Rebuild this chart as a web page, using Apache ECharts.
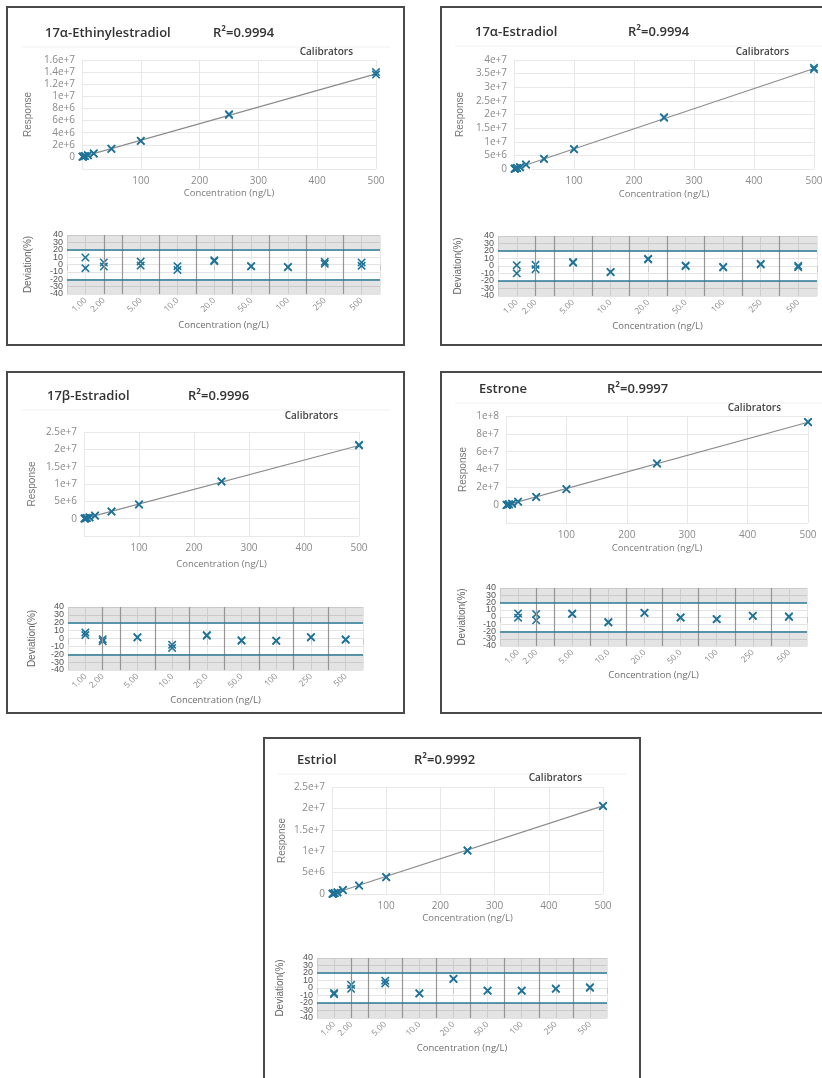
<!DOCTYPE html>
<html>
<head>
<meta charset="utf-8">
<title>Calibration curves</title>
<script src="https://cdn.jsdelivr.net/npm/echarts@6/dist/echarts.min.js"></script>
<style>
  html, body { margin: 0; padding: 0; background: #fff; }
  #chart { width: 822px; height: 1078px; }
</style>
</head>
<body>
<div id="chart"></div>
<script>
// calibration levels (ng/L) and where each sits on the deviation plot
var concLevels = [1, 2, 5, 10, 20, 50, 100, 250, 500];
var levelLabels = ['1.00', '2.00', '5.00', '10.0', '20.0', '50.0', '100', '250', '500'];
var levelSlots = [0.5, 1, 2, 3, 4, 5, 6, 7, 8];
var slotDividers = [1, 1.5, 2.5, 3.5, 4.5, 5.5, 6.5, 7.5];

var compoundNames = ['17α-Ethinylestradiol', '17α-Estradiol', '17β-Estradiol', 'Estrone', 'Estriol'];
var r2Labels = ['R²=0.9994', 'R²=0.9994', 'R²=0.9996', 'R²=0.9997', 'R²=0.9992'];

// responses, two replicates per level
var respEE2 = [2.99e4, 2.60e4, 5.63e4, 5.33e4, 1.43e5, 1.35e5, 2.68e5, 2.54e5, 5.80e5, 5.73e5,
               1.34e6, 1.33e6, 2.64e6, 2.65e6, 7.05e6, 6.93e6, 1.40e7, 1.36e7];
var respE2a = [7.5e4, 6.7e4, 1.50e5, 1.42e5, 3.89e5, 3.86e5, 6.80e5, 6.78e5, 1.62e6, 1.61e6,
               3.69e6, 3.72e6, 7.23e6, 7.30e6, 1.88e7, 1.90e7, 3.66e7, 3.72e7];
var respE2b = [4.55e4, 4.40e4, 8.36e4, 8.15e4, 2.15e5, 2.14e5, 3.88e5, 3.71e5, 8.80e5, 8.73e5,
               2.07e6, 2.05e6, 4.10e6, 4.11e6, 1.075e7, 1.073e7, 2.13e7, 2.11e7];
var respE1 = [1.94e5, 1.83e5, 3.85e5, 3.53e5, 9.70e5, 9.65e5, 1.71e6, 1.70e6, 3.92e6, 3.91e6,
              9.20e6, 9.18e6, 1.79e7, 1.80e7, 4.68e7, 4.67e7, 9.33e7, 9.30e7];
var respE3 = [3.81e4, 3.75e4, 8.50e4, 8.10e4, 2.24e5, 2.17e5, 3.78e5, 3.80e5, 9.20e5, 9.18e5,
              1.97e6, 1.98e6, 3.94e6, 3.95e6, 1.01e7, 1.02e7, 2.05e7, 2.06e7];

// deviation (%), two replicates per level
var devEE2 = [9.5, -5, 2.7, -2.7, 4, -1.4, -2.3, -7.3, 5.9, 4.5, -2.3, -2.5, -3.6, -3.4, 3.6, 0.9, 2.7, -1.8];
var devE2a = [1.1, -9.7, 1.6, -4.3, 5.2, 4.3, -7.9, -8.3, 9.7, 8.8, -0.2, 0.7, -2, -1.1, 2, 2.9, -1.6, 0.2];
var devE2b = [7.7, 4.3, -0.9, -3.4, 1.7, 1.3, -8, -12, 4.3, 3.4, -2.1, -3, -3, -2.8, 1.7, 1.5, -1, -1.7];
var devE1 = [5, -0.9, 4.1, -4.5, 5, 4.1, -6.8, -7.7, 5.9, 5.5, -0.5, -0.9, -3.2, -2.7, 1.8, 1.4, 0.9, 0];
var devE3 = [-6.5, -8.3, 4.3, -1.1, 9.7, 6.1, -7.4, -7, 12.4, 11.9, -3.8, -3.4, -3.8, -3.4, -1.1, -0.7, 0.2, 1.1];

// fitted line: response at 0 and at 500 ng/L
var fitEE2 = [0, 1.37e7];
var fitE2a = [0, 3.69e7];
var fitE2b = [0, 2.11e7];
var fitE1 = [0, 9.30e7];
var fitE3 = [0, 2.06e7];

// response axis ticks
var respMax = [1.6e7, 4e7, 2.5e7, 1e8, 2.5e7];
var respStep = [2e6, 5e6, 5e6, 2e7, 5e6];
var respMin = [-2e6, 0, -5e6, -2e7, 0];

var allResp = [respEE2, respE2a, respE2b, respE1, respE3];
var allDev = [devEE2, devE2a, devE2b, devE1, devE3];
var allFit = [fitEE2, fitE2a, fitE2b, fitE1, fitE3];

// layout of the five boxes (pixels)
var panels = [
  { box: [7, 7, 397, 338], title: [45, 33], r2x: 213, calib: [353, 52],
    cal: [82, 60, 294, 109], dev: [67, 235, 313, 59], gaps: [49, 19, 34, 26] },
  { box: [441, 7, 400, 338], title: [475, 32], r2x: 628, calib: [789, 52],
    cal: [514, 60, 300, 109], dev: [498, 236, 319, 60], gaps: [49, 20, 35, 25] },
  { box: [7, 372, 397, 341], title: [47, 396], r2x: 188, calib: [338, 416],
    cal: [84, 432, 275, 104], dev: [68, 607, 295, 63], gaps: [47, 23, 31, 25] },
  { box: [441, 372, 400, 341], title: [479, 389], r2x: 607, calib: [781, 408],
    cal: [506, 416, 302, 107], dev: [500, 588, 307, 58], gaps: [38, 20, 33, 24] },
  { box: [264, 738, 376, 360], title: [297, 760], r2x: 414, calib: [582, 778],
    cal: [332, 787, 271, 107], dev: [317, 958, 290, 60], gaps: [45, 19, 32, 25] }
];

var markerColor = '#1f7398';
var limitColor = '#2b7a99';
var crossPath = 'path://M0,1.3L1.3,0L5,3.7L8.7,0L10,1.3L6.3,5L10,8.7L8.7,10L5,6.3L1.3,10L0,8.7L3.7,5Z';
var tickFont = 'Open Sans, Liberation Sans, sans-serif';
var narrowFont = 'Liberation Sans Narrow, Liberation Sans, sans-serif';

function expLabel(v) {
  if (v < 0) return '';
  if (v === 0) return '0';
  return v.toExponential();
}

function slotLabel(v) {
  for (var k = 0; k < levelSlots.length; k++) {
    if (Math.abs(levelSlots[k] - v) < 1e-6) return levelLabels[k];
  }
  return '';
}

var grids = [], xAxes = [], yAxes = [], series = [], graphics = [];

var devLabelStyle = { color: '#555', fontSize: 9, fontFamily: narrowFont, margin: 4 };

panels.forEach(function (p, i) {
  // calibration curve
  var gi = grids.length;
  var cx = xAxes.length, cy = yAxes.length;
  grids.push({ left: p.cal[0], top: p.cal[1], width: p.cal[2], height: p.cal[3], outerBoundsMode: 'none' });
  xAxes.push({
    type: 'value', gridIndex: gi, min: 0, max: 500, interval: 100,
    axisLine: { show: false }, axisTick: { show: false },
    splitLine: { lineStyle: { color: '#e8e8e8', width: 1 } },
    axisLabel: { color: '#8a8a8a', fontSize: 10, fontFamily: tickFont, margin: 7,
      formatter: function (v) { return v === 0 ? '' : String(v); } },
    name: 'Concentration (ng/L)', nameLocation: 'middle', nameGap: p.gaps[1], nameMoveOverlap: false,
    nameTextStyle: { color: '#7a7a7a', fontSize: 9.5, fontFamily: tickFont }
  });
  yAxes.push({
    type: 'value', gridIndex: gi, position: 'left', min: respMin[i], max: respMax[i], interval: respStep[i],
    axisLine: { show: false }, axisTick: { show: false },
    splitLine: { lineStyle: { color: '#e8e8e8', width: 1 } },
    axisLabel: { color: '#8a8a8a', fontSize: 10, fontFamily: tickFont, margin: 7, formatter: expLabel,
      hideOverlap: false, showMinLabel: true, showMaxLabel: true },
    name: 'Response', nameLocation: 'middle', nameGap: p.gaps[0], nameMoveOverlap: false,
    nameTextStyle: { color: '#777', fontSize: 10, fontFamily: narrowFont }
  });

  var calPts = [];
  allResp[i].forEach(function (r, k) { calPts.push([concLevels[Math.floor(k / 2)], r]); });
  var fit = allFit[i];
  series.push({
    type: 'line', xAxisIndex: cx, yAxisIndex: cy, silent: true, showSymbol: false,
    data: [[0, fit[0]], [concLevels[concLevels.length - 1], fit[1]]],
    lineStyle: { color: '#8c8c8c', width: 1.2 }, z: 2
  });
  series.push({
    type: 'scatter', xAxisIndex: cx, yAxisIndex: cy, silent: true,
    symbol: crossPath, symbolSize: 8.5, data: calPts,
    itemStyle: { color: markerColor, opacity: 1 }, z: 3
  });

  // deviation plot
  var di = grids.length;
  var dx = xAxes.length, dy = yAxes.length;
  grids.push({ left: p.dev[0], top: p.dev[1], width: p.dev[2], height: p.dev[3], outerBoundsMode: 'none' });
  xAxes.push({
    type: 'value', gridIndex: di, min: 0, max: 8.5, interval: 0.5,
    axisLine: { show: false },
    axisTick: { show: true, length: 6, lineStyle: { color: '#c8c8c8' } },
    splitLine: { lineStyle: { color: '#e6e6e6', width: 1 } },
    axisLabel: { customValues: levelSlots, formatter: slotLabel, rotate: 45, color: '#8a8a8a',
      fontSize: 8.5, fontFamily: tickFont, margin: 5 },
    name: 'Concentration (ng/L)', nameLocation: 'middle', nameGap: p.gaps[3], nameMoveOverlap: false,
    nameTextStyle: { color: '#6f6f6f', fontSize: 9.5, fontFamily: tickFont }
  });
  // labels every 20 on one axis, the in-between ones on a twin axis so none get dropped
  yAxes.push({
    type: 'value', gridIndex: di, position: 'left', offset: 0, min: -40, max: 40, interval: 20,
    axisLine: { show: false }, axisTick: { show: false }, splitLine: { show: false },
    axisLabel: Object.assign({ showMinLabel: true, showMaxLabel: true }, devLabelStyle),
    name: 'Deviation(%)', nameLocation: 'middle', nameGap: p.gaps[2], nameMoveOverlap: false,
    nameTextStyle: { color: '#666', fontSize: 10, fontFamily: narrowFont }
  });
  yAxes.push({
    type: 'value', gridIndex: di, position: 'left', offset: 0, min: -40, max: 40, interval: 10,
    axisLine: { show: false }, axisTick: { show: false },
    splitLine: { lineStyle: { color: '#e3e3e3', width: 1 } },
    axisLabel: Object.assign({ showMinLabel: false, showMaxLabel: false,
      formatter: function (v) { return v % 20 === 0 ? '' : String(v); } }, devLabelStyle)
  });

  var devPts = [];
  allDev[i].forEach(function (d, k) { devPts.push([levelSlots[Math.floor(k / 2)], d]); });
  series.push({
    type: 'scatter', xAxisIndex: dx, yAxisIndex: dy, silent: true, data: [],
    markArea: { silent: true, itemStyle: { color: 'rgba(0,0,0,0.11)' },
      data: [[{ yAxis: 20 }, { yAxis: 40 }], [{ yAxis: -40 }, { yAxis: -20 }]] },
    markLine: { silent: true, symbol: 'none', label: { show: false }, animation: false,
      data: slotDividers.map(function (s) {
        return { xAxis: s, lineStyle: { color: '#959595', width: 1.2, type: 'solid' } };
      }).concat([
        { yAxis: 20, lineStyle: { color: limitColor, width: 1.6, type: 'solid' } },
        { yAxis: -20, lineStyle: { color: limitColor, width: 1.6, type: 'solid' } }
      ]) },
    z: 1
  });
  series.push({
    type: 'scatter', xAxisIndex: dx, yAxisIndex: dy, silent: true,
    symbol: crossPath, symbolSize: 8.5, data: devPts,
    itemStyle: { color: markerColor, opacity: 1 }, z: 4
  });

  // frame and captions
  graphics.push({ type: 'rect', silent: true,
    shape: { x: p.box[0], y: p.box[1], width: p.box[2], height: p.box[3] },
    style: { fill: 'none', stroke: '#4a4a4a', lineWidth: 2 } });
  graphics.push({ type: 'line', silent: true,
    shape: { x1: p.box[0] + 14, y1: p.title[1] + 14, x2: p.box[0] + p.box[2] - 14, y2: p.title[1] + 14 },
    style: { stroke: '#f1f1f1', lineWidth: 1 } });
  graphics.push({ type: 'text', silent: true, x: p.title[0], y: p.title[1],
    style: { text: compoundNames[i], fill: '#333', font: '600 13px Open Sans, sans-serif',
      align: 'left', verticalAlign: 'middle' } });
  graphics.push({ type: 'text', silent: true, x: p.r2x, y: p.title[1],
    style: { text: r2Labels[i], fill: '#333', font: '600 13px Open Sans, sans-serif',
      align: 'left', verticalAlign: 'middle' } });
  graphics.push({ type: 'text', silent: true, x: p.calib[0], y: p.calib[1],
    style: { text: 'Calibrators', fill: '#444', font: '600 10px Open Sans, sans-serif',
      align: 'right', verticalAlign: 'middle' } });
});

var chart = echarts.init(document.getElementById('chart'));
chart.setOption({
  animation: false,
  backgroundColor: '#fff',
  grid: grids,
  xAxis: xAxes,
  yAxis: yAxes,
  series: series,
  graphic: graphics
});
</script>
</body>
</html>
